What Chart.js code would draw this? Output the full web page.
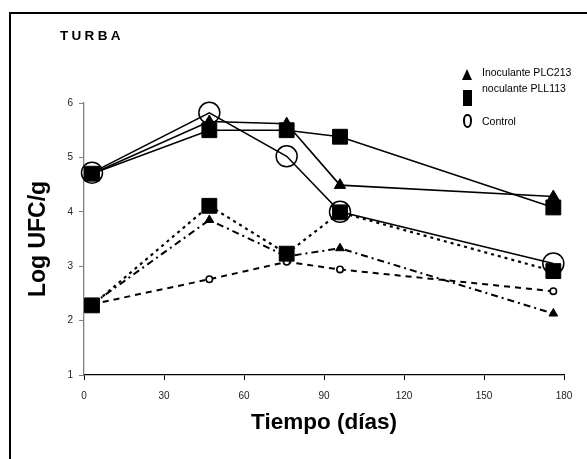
<!DOCTYPE html>
<html>
<head>
<meta charset="utf-8">
<script src="https://cdn.jsdelivr.net/npm/chart.js@4"></script>
<style>
  html, body { margin: 0; padding: 0; background: #fff; }
  #wrap { position: relative; width: 587px; height: 459px; overflow: hidden; font-family: Arial, "Liberation Sans", sans-serif; }
  #marco { position: absolute; left: 9px; top: 12px; right: -10px; bottom: -10px; border-top: 2px solid #000; border-left: 2px solid #000; }
  #titulo { position: absolute; left: 60px; top: 28px; font-size: 13.5px; font-weight: bold; letter-spacing: 3.3px; }
  #leyenda { position: absolute; left: 458px; top: 64px; font-size: 10.5px; }
  .item { position: absolute; left: 0; white-space: nowrap; }
  .item span { position: absolute; left: 24px; }
  .mk { position: absolute; background: #000; }
</style>
</head>
<body>
<div id="wrap">
  <canvas id="c" width="587" height="459"></canvas>
  <div id="marco"></div>
  <div id="titulo">TURBA</div>
  <div id="leyenda"></div>
</div>
<script>
// días de muestreo
const dias = [3, 47, 76, 96, 176];

// líneas continuas
const plc213Cont = [4.70, 5.66, 5.62, 4.49, 4.28];
const pll113Cont = [4.70, 5.50, 5.50, 5.38, 4.08];
const controlCont = [4.72, 5.82, 5.02, 4.00, 3.05];

// líneas discontinuas
const pll113Disc = [2.28, 4.11, 3.23, 3.99, 2.91];
const plc213Disc = [2.30, 3.85, 3.18, 3.33, 2.13];
const controlDisc = [2.30, 2.76, 3.08, 2.94, 2.54];

const nombres = ["Inoculante PLC213", "noculante PLL113", "Control"];
const ticksX = [0, 30, 60, 90, 120, 150, 180];
const ticksY = [1, 2, 3, 4, 5, 6];

const pts = (ys) => dias.map((d, i) => ({ x: d, y: ys[i] }));

function serie(ys, estilo) {
  return Object.assign({
    data: pts(ys),
    borderColor: "#000",
    backgroundColor: "#000",
    pointBorderColor: "#000",
    borderWidth: 1.6,
    pointBorderWidth: 1,
    tension: 0,
    clip: false,
  }, estilo);
}

// el primero se dibuja encima
const datasets = [
  serie(controlCont, { pointStyle: "circle", pointRadius: 10.5, pointBackgroundColor: "rgba(0,0,0,0)", pointBorderWidth: 1.5 }),
  serie(pll113Cont, { pointStyle: "rect", pointRadius: 10.5 }),
  serie(plc213Cont, { pointStyle: "triangle", pointRadius: 6.5 }),
  serie(pll113Disc, { pointStyle: "rect", pointRadius: 10.5, borderDash: [3, 4], borderWidth: 2.2 }),
  serie(plc213Disc, { pointStyle: "triangle", pointRadius: 5, borderDash: [7, 4, 2, 4], borderWidth: 2 }),
  serie(controlDisc, { pointStyle: "circle", pointRadius: 3.2, pointBorderWidth: 1.6, pointBackgroundColor: "#fff", borderDash: [6, 5], borderWidth: 2 }),
];

new Chart(document.getElementById("c"), {
  type: "line",
  data: { datasets },
  options: {
    responsive: false,
    animation: false,
    events: [],
    layout: { padding: { top: 103, right: 23, left: 0, bottom: 0 } },
    plugins: { legend: { display: false }, tooltip: { enabled: false } },
    scales: {
      x: {
        type: "linear",
        min: 0,
        max: 180,
        afterBuildTicks: (s) => { s.ticks = ticksX.map(v => ({ value: v })); },
        afterFit: (s) => { s.height = 84; },
        border: { color: "#000", width: 1.3 },
        grid: { drawOnChartArea: false, color: "#000", tickLength: 5 },
        ticks: { color: "#222", font: { family: "Arial", size: 10 }, padding: 10 },
        title: { display: true, text: "Tiempo (días)", color: "#000", font: { family: "Arial", size: 22.5, weight: "bold" }, padding: { bottom: 23 } },
      },
      y: {
        min: 1,
        max: 6,
        afterBuildTicks: (s) => { s.ticks = ticksY.map(v => ({ value: v })); },
        afterFit: (s) => { s.width = 84; },
        border: { color: "#808080", width: 1.3 },
        grid: { drawOnChartArea: false, color: "#808080", tickLength: 5 },
        ticks: { color: "#222", font: { family: "Arial", size: 10 }, padding: 6 },
        title: { display: true, text: "Log UFC/g", color: "#000", font: { family: "Arial", size: 23, weight: "bold" }, padding: { top: 25 } },
      },
    },
  },
});

// leyenda
const ley = document.getElementById("leyenda");
const filas = [
  { top: 2, mk: "left:4px;top:5px;width:10px;height:11px;clip-path:polygon(50% 0,100% 100%,0 100%);" },
  { top: 18, mk: "left:5px;top:26px;width:9px;height:16px;" },
  { top: 51, mk: "left:5px;top:50px;width:5px;height:10px;background:#fff;border:2px solid #000;border-radius:45% 45% 50% 50%;" },
];
filas.forEach((f, i) => {
  const d = document.createElement("div");
  d.className = "item";
  d.style.top = "0px";
  d.innerHTML = '<div class="mk" style="' + f.mk + '"></div><span style="top:' + f.top + 'px">' + nombres[i] + "</span>";
  ley.appendChild(d);
});
</script>
</body>
</html>
